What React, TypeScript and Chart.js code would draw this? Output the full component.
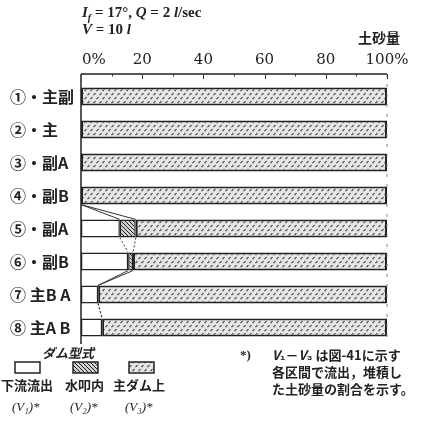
import React, { useEffect, useRef } from "react";
import { Chart, registerables } from "chart.js";

Chart.register(...registerables);

const categories = ["①・主副", "②・主", "③・副A", "④・副B", "⑤・副A", "⑥・副B", "⑦ 主B A", "⑧ 主A B"];
const v1Outflow: (number | null)[] = [null, null, null, null, 12.7, 15.4, 5.6, 6.9];
const v2Apron: (number | null)[] = [null, null, null, null, 5.2, 1.6, null, null];
const v3MainDam: (number | null)[] = [100, 100, 100, 100, 82.1, 83.0, 94.4, 93.1];
const seriesNames = ["下流流出", "水叩内", "主ダム上"];
const seriesTags = ["(V₁)*", "(V₂)*", "(V₃)*"];
const xTicks = [0, 20, 40, 60, 80, 100];
const xTickLabels = ["0%", "20", "40", "60", "80", "100%"];

const FRAME_TOP = 74;

function makeStipple(ctx: CanvasRenderingContext2D) {
  const c = document.createElement("canvas");
  c.width = 6;
  c.height = 8;
  const g = c.getContext("2d")!;
  g.fillStyle = "#e6e6e6";
  g.fillRect(0, 0, 6, 8);
  g.strokeStyle = "#3a3a3a";
  g.lineWidth = 1.1;
  g.beginPath();
  g.moveTo(0.5, 3.2);
  g.lineTo(2.5, 1.2);
  g.moveTo(3.5, 7.2);
  g.lineTo(5.5, 5.2);
  g.stroke();
  return ctx.createPattern(c, "repeat")!;
}

function makeHatch(ctx: CanvasRenderingContext2D) {
  const c = document.createElement("canvas");
  c.width = 4;
  c.height = 4;
  const g = c.getContext("2d")!;
  g.fillStyle = "#cfcfcf";
  g.fillRect(0, 0, 4, 4);
  g.strokeStyle = "#222";
  g.lineWidth = 1;
  g.beginPath();
  g.moveTo(0, 0);
  g.lineTo(4, 4);
  g.moveTo(-1, 3);
  g.lineTo(1, 5);
  g.moveTo(3, -1);
  g.lineTo(5, 1);
  g.stroke();
  return ctx.createPattern(c, "repeat")!;
}

const overlayPlugin = {
  id: "overlay",
  afterDatasetsDraw(chart: any) {
    const ctx: CanvasRenderingContext2D = chart.ctx;
    const xs = chart.scales.x;
    const area = chart.chartArea;
    const x0 = xs.getPixelForValue(0);
    const x100 = xs.getPixelForValue(100);
    ctx.save();
    // connectors between consecutive bars
    const meta = chart.getDatasetMeta(2);
    const cum1 = v1Outflow.map((v) => v ?? 0);
    const cum2 = v1Outflow.map((v, i) => (v ?? 0) + (v2Apron[i] ?? 0));
    ctx.strokeStyle = "#333";
    ctx.lineWidth = 1;
    for (let i = 0; i < categories.length - 1; i++) {
      const a: any = meta.data[i];
      const b: any = meta.data[i + 1];
      const aBottom = a.y + a.height / 2;
      const bTop = b.y - b.height / 2;
      [cum1, cum2].forEach((cum) => {
        if (cum[i] === 0 && cum[i + 1] === 0) return;
        ctx.setLineDash(i % 2 === 0 ? [2, 2] : []);
        ctx.beginPath();
        ctx.moveTo(xs.getPixelForValue(cum[i]), aBottom);
        ctx.lineTo(xs.getPixelForValue(cum[i + 1]), bTop);
        ctx.stroke();
      });
    }
    ctx.setLineDash([]);
    // frame
    ctx.strokeStyle = "#222";
    ctx.lineWidth = 1.5;
    ctx.beginPath();
    ctx.moveTo(x0, FRAME_TOP);
    ctx.lineTo(x100, FRAME_TOP);
    ctx.moveTo(x0, FRAME_TOP);
    ctx.lineTo(x0, area.bottom);
    ctx.stroke();
    ctx.strokeStyle = "#888";
    ctx.lineWidth = 1;
    ctx.setLineDash([3, 7]);
    ctx.beginPath();
    ctx.moveTo(x100, FRAME_TOP);
    ctx.lineTo(x100, area.bottom);
    ctx.stroke();
    ctx.setLineDash([]);
    ctx.strokeStyle = "#333";
    ctx.lineWidth = 1;
    for (let v = 10; v <= 100; v += 10) {
      const px = Math.round(xs.getPixelForValue(v)) + 0.5;
      ctx.beginPath();
      ctx.moveTo(px, FRAME_TOP);
      ctx.lineTo(px, FRAME_TOP + (v % 20 === 0 ? 5 : 2.5));
      ctx.stroke();
    }
    // tick labels
    ctx.fillStyle = "#222";
    ctx.font = "15px 'DejaVu Serif'";
    ctx.textBaseline = "alphabetic";
    xTicks.forEach((v, i) => {
      const px = xs.getPixelForValue(v);
      if (i === 0) {
        ctx.textAlign = "left";
        ctx.fillText(xTickLabels[i], px + 1, 64);
      } else {
        ctx.textAlign = "center";
        ctx.fillText(xTickLabels[i], px, 64);
      }
    });
    // legend swatches
    const boxes = [
      [15, 362],
      [73, 362],
      [129, 362],
    ];
    chart.data.datasets.forEach((ds: any, i: number) => {
      const [bx, by] = boxes[i];
      ctx.fillStyle = ds.backgroundColor;
      ctx.fillRect(bx, by, 25, 11);
      ctx.strokeStyle = "#222";
      ctx.lineWidth = 1.5;
      ctx.strokeRect(bx, by, 25, 11);
    });
    ctx.restore();
  },
};

export default function App() {
  const ref = useRef<HTMLCanvasElement>(null);
  useEffect(() => {
    document.body.style.margin = "0";
    const canvas = ref.current!;
    const ctx = canvas.getContext("2d")!;
    const stipple = makeStipple(ctx);
    const hatch = makeHatch(ctx);
    const common = {
      borderColor: "#222",
      borderSkipped: false,
      categoryPercentage: 1,
      barPercentage: 0.55,
    };
    const chart = new Chart(canvas, {
      type: "bar",
      data: {
        labels: categories,
        datasets: [
          { label: seriesNames[0], data: v1Outflow, backgroundColor: "#ffffff", borderWidth: 1.5, ...common },
          { label: seriesNames[1], data: v2Apron, backgroundColor: hatch, borderWidth: 1.5, ...common },
          { label: seriesNames[2], data: v3MainDam, backgroundColor: stipple, borderWidth: 2, ...common },
        ],
      } as any,
      options: {
        indexAxis: "y",
        responsive: false,
        animation: false,
        maintainAspectRatio: false,
        layout: { padding: { left: 10, right: 34, top: 80, bottom: 85 } },
        plugins: { legend: { display: false }, tooltip: { enabled: false } },
        scales: {
          x: { display: false, stacked: true, min: 0, max: 100 },
          y: {
            stacked: true,
            grid: { display: false },
            border: { display: false },
            ticks: {
              crossAlign: "far",
              padding: 0,
              color: "#222",
              font: { family: "'Noto Sans CJK JP'", size: 16, weight: "bold" },
            },
            afterFit: (s: any) => {
              s.width = 71;
            },
          },
        },
      } as any,
      plugins: [overlayPlugin],
    });
    return () => chart.destroy();
  }, []);

  const txt = (left: number, top: number, size: number, content: React.ReactNode, extra: any = {}) => (
    <div
      style={{
        position: "absolute",
        left,
        top,
        fontSize: size,
        lineHeight: `${size + 2}px`,
        whiteSpace: "nowrap",
        color: "#222",
        ...extra,
      }}
    >
      {content}
    </div>
  );
  const jp = "'Noto Sans CJK JP', sans-serif";
  const serif = "'Liberation Serif', serif";

  return (
    <div style={{ position: "absolute", left: 0, top: 0, width: 421, height: 429, background: "#fff", overflow: "hidden" }}>
      <canvas ref={ref} width={421} height={429} style={{ position: "absolute", left: 0, top: 0 }} />
      {txt(82, 4, 15, <span><i>I</i><sub style={{ fontSize: 10 }}><i>f</i></sub> = 17°, <i>Q</i> = 2 <i>l</i>/sec</span>, { fontFamily: serif, fontWeight: "bold" })}
      {txt(82, 21, 15, <span><i>V</i> = 10 <i>l</i></span>, { fontFamily: serif, fontWeight: "bold" })}
      {txt(358, 29, 14, "土砂量", { fontFamily: jp, fontWeight: "bold" })}
      {txt(42, 345, 13, "ダム型式", { fontFamily: jp, fontStyle: "italic", fontWeight: "bold" })}
      {txt(1, 377, 13, seriesNames[0], { fontFamily: jp, fontWeight: "bold" })}
      {txt(65, 377, 13, seriesNames[1], { fontFamily: jp, fontWeight: "bold" })}
      {txt(113, 377, 13, seriesNames[2], { fontFamily: jp, fontWeight: "bold" })}
      {txt(12, 399, 13, seriesTags[0], { fontFamily: serif, fontStyle: "italic" })}
      {txt(70, 399, 13, seriesTags[1], { fontFamily: serif, fontStyle: "italic" })}
      {txt(125, 399, 13, seriesTags[2], { fontFamily: serif, fontStyle: "italic" })}
      {txt(240, 347, 13, "*)", { fontFamily: serif, fontWeight: "bold" })}
      {txt(272, 347, 13, <span><i>V</i>₁－<i>V</i>₃ は図-41に示す</span>, { fontFamily: jp, fontWeight: "bold" })}
      {txt(272, 364, 13, "各区間で流出，堆積し", { fontFamily: jp, fontWeight: "bold" })}
      {txt(272, 381, 13, "た土砂量の割合を示す。", { fontFamily: jp, fontWeight: "bold" })}
    </div>
  );
}
